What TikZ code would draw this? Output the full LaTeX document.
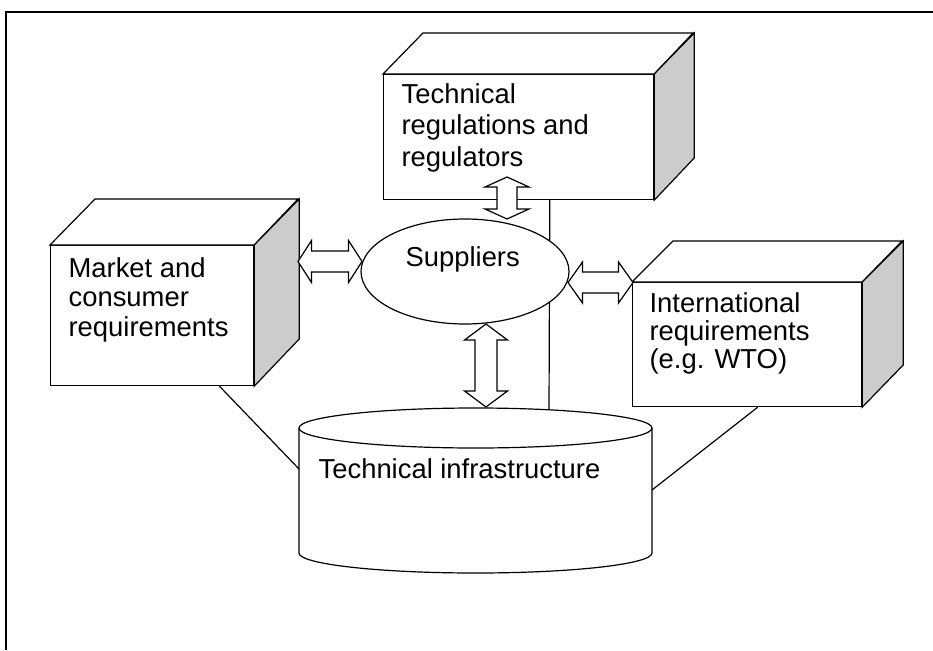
\documentclass[tikz,border=0pt]{standalone}
\usepackage{fontspec}
\setmainfont{Liberation Sans}
\usetikzlibrary{calc,shapes.geometric}
\definecolor{sidegray}{RGB}{204,204,204}
\newcommand{\blockarrow}[5]{%
  \coordinate (baHa) at ($(#1)!#5!(#2)$);
  \coordinate (baHb) at ($(#2)!#5!(#1)$);
  \draw[fill=white] (#1) -- ($(baHa)!#4!90:(#2)$) -- ($(baHa)!#3!90:(#2)$)
    -- ($(baHb)!#3!-90:(#1)$) -- ($(baHb)!#4!-90:(#1)$) -- (#2)
    -- ($(baHb)!#4!90:(#1)$) -- ($(baHb)!#3!90:(#1)$)
    -- ($(baHa)!#3!-90:(#2)$) -- ($(baHa)!#4!-90:(#2)$) -- cycle;}
\begin{document}
\begin{tikzpicture}[x=1pt,y=-1pt,line width=1.2pt,line join=miter,
  face/.style={draw,fill=white,inner sep=0pt,anchor=north west},
  lbl/.style={inner sep=0pt,anchor=base west,align=left,font=\fontsize{27.4}{31.5}\selectfont},
  frameline/.style={line width=2pt}]
\useasboundingbox (0,0) rectangle (933,650);
\draw[frameline] (933,12) -- (6,12) -- (6,650);
% cylinder
\draw[fill=white] (299,428) -- (299,553) arc[start angle=180,end angle=0,x radius=176.5,y radius=20] -- (652,428);
\draw[fill=white] (475.5,428) ellipse[x radius=176.5,y radius=20];
\coordinate (infraL) at (299,469);
\coordinate (infraR) at (652,490);
\coordinate (infraT) at (549,409.8);
% boxes (front faces)
\node[face,minimum width=270pt,minimum height=125pt] (reg) at (383,74) {};
\node[face,minimum width=203pt,minimum height=140pt] (mkt) at (50,245) {};
\node[face,minimum width=229pt,minimum height=124pt] (intl) at (632,282) {};
% connecting lines
\draw ($(mkt.south west)!0.83!(mkt.south east)$) -- (infraL);
\draw ($(intl.south west)!0.546!(intl.south east)$) -- (infraR);
\draw ($(reg.south west)!0.615!(reg.south east)$) -- (infraT);
% 3D faces
\draw[fill=white] (reg.north west) -- ++(40,-41) -- ++(270,0) -- (reg.north east) -- cycle;
\draw[fill=sidegray] (reg.north east) -- ++(40,-41) -- ++(0,125) -- (reg.south east) -- cycle;
\draw[fill=white] (mkt.north west) -- ++(45,-46) -- ++(203,0) -- (mkt.north east) -- cycle;
\draw[fill=sidegray] (mkt.north east) -- ++(45,-46) -- ++(0,140) -- (mkt.south east) -- cycle;
\draw[fill=white] (intl.north west) -- ++(41,-41) -- ++(229,0) -- (intl.north east) -- cycle;
\draw[fill=sidegray] (intl.north east) -- ++(41,-41) -- ++(0,124) -- (intl.south east) -- cycle;
% suppliers
\node[ellipse,draw,fill=white,inner sep=0pt,minimum width=208pt,minimum height=105pt] (sup) at (465,271.5) {};
% arrows
\coordinate (aL1) at (298,261.5); \coordinate (aL2) at (362,261.5);
\coordinate (aR1) at (568,282.5); \coordinate (aR2) at (633,282.5);
\coordinate (aT1) at (507,177);   \coordinate (aT2) at (507,219);
\coordinate (aB1) at (486,324);   \coordinate (aB2) at (486,407);
\blockarrow{aL1}{aL2}{10.5pt}{21pt}{13.5pt}
\blockarrow{aR1}{aR2}{10.5pt}{20.5pt}{14.5pt}
\blockarrow{aT1}{aT2}{10pt}{22pt}{10pt}
\blockarrow{aB1}{aB2}{11pt}{21.5pt}{16pt}
% labels (base anchor = baseline of last line)
\node[lbl,font=\fontsize{27.4}{31.7}\selectfont] (regT) at (401,166.4) {Technical\\regulations and\\regulators};
\node[lbl,font=\fontsize{27.4}{29.7}\selectfont] (mktT) at (68,336.4) {Market and\\consumer\\requirements};
\node[lbl,font=\fontsize{27.4}{28.3}\selectfont] (intlT) at (649,368.6) {International\\requirements\\(e.g. WTO)};
\node[lbl] (supT) at (405,266) {Suppliers};
\node[lbl] (infraT2) at (318,478) {Technical infrastructure};
\end{tikzpicture}
\end{document}
